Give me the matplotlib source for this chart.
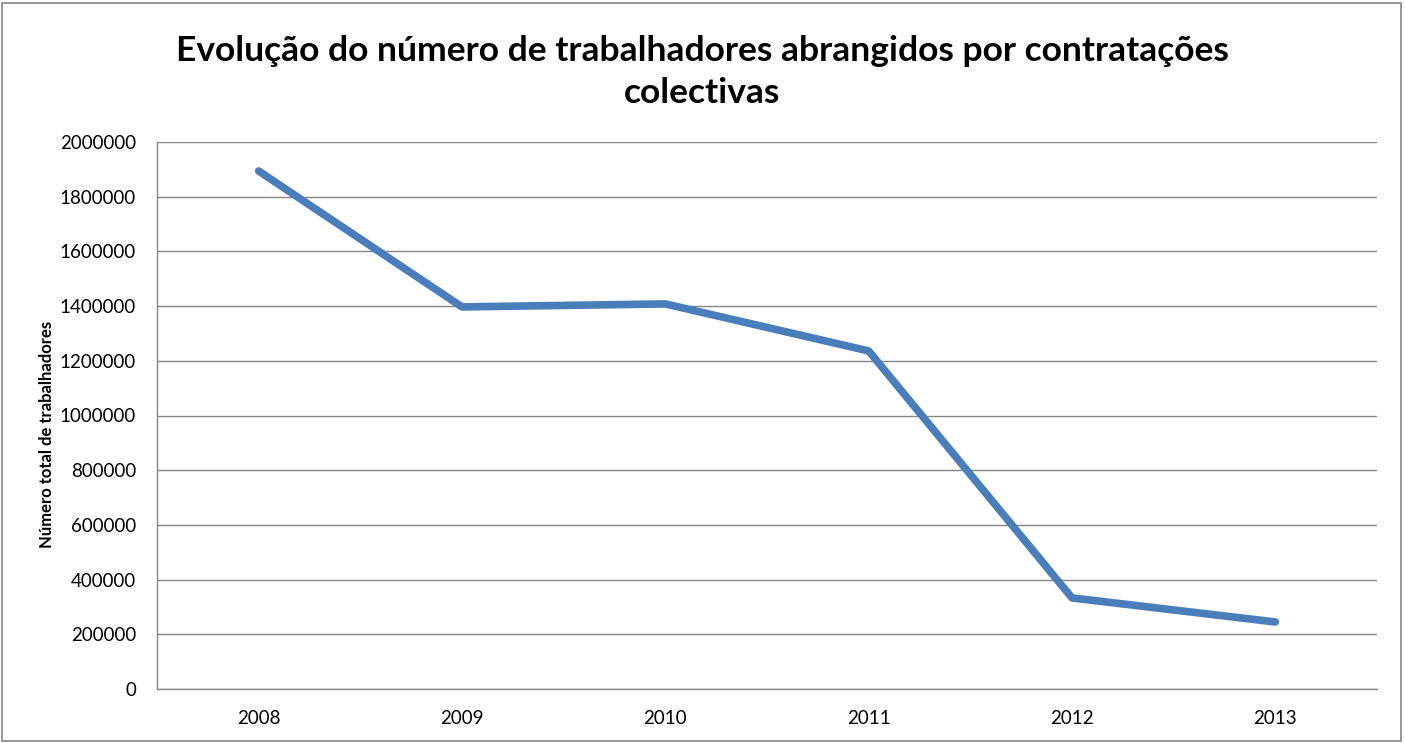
import matplotlib.pyplot as plt
from matplotlib.patches import Rectangle

plt.rcParams['font.family'] = ['Lato', 'DejaVu Sans']

anos = ["2008", "2009", "2010", "2011", "2012", "2013"]
trabalhadores = [1894000, 1397000, 1408000, 1236000, 333000, 245000]
yticks = [0, 200000, 400000, 600000, 800000, 1000000, 1200000, 1400000,
          1600000, 1800000, 2000000]

fig = plt.figure(figsize=(14.05, 7.43), dpi=100)
ax = fig.add_axes([157/1405, 54/743, 1220/1405, 547/743])

x = list(range(len(anos)))
ax.plot(x, trabalhadores, color="#4A7EBB", linewidth=5.5, solid_capstyle="round",
        solid_joinstyle="round", zorder=3)

ax.set_xlim(-0.5, len(anos) - 0.5)
ax.set_ylim(0, 2000000)
ax.set_xticks(x)
ax.set_xticklabels(anos)
ax.set_yticks(yticks)
ax.set_yticklabels([str(v) for v in yticks])
ax.tick_params(length=0, labelsize=13.5)
ax.tick_params(axis="y", pad=15)
ax.tick_params(axis="x", pad=15)
ax.grid(axis="y", color="#868686", linewidth=1)
ax.set_axisbelow(True)
for s in ["top", "right"]:
    ax.spines[s].set_visible(False)
for s in ["left", "bottom"]:
    ax.spines[s].set_color("#868686")
    ax.spines[s].set_linewidth(1)

ax.set_ylabel("Número total de trabalhadores", fontsize=12, fontweight="bold")
ax.yaxis.set_label_coords(-0.0836, 0.466)
fig.text(0.5, 0.903, "Evolução do número de trabalhadores abrangidos por contratações\ncolectivas",
         ha="center", va="center", fontsize=25.5, fontweight="bold", linespacing=1.38)

fig.patches.append(Rectangle((2/1405, 2/743), 1399/1405, 738/743, transform=fig.transFigure,
                             fill=False, edgecolor="#868686", linewidth=1.2))

fig.savefig("out.png", dpi=100)
